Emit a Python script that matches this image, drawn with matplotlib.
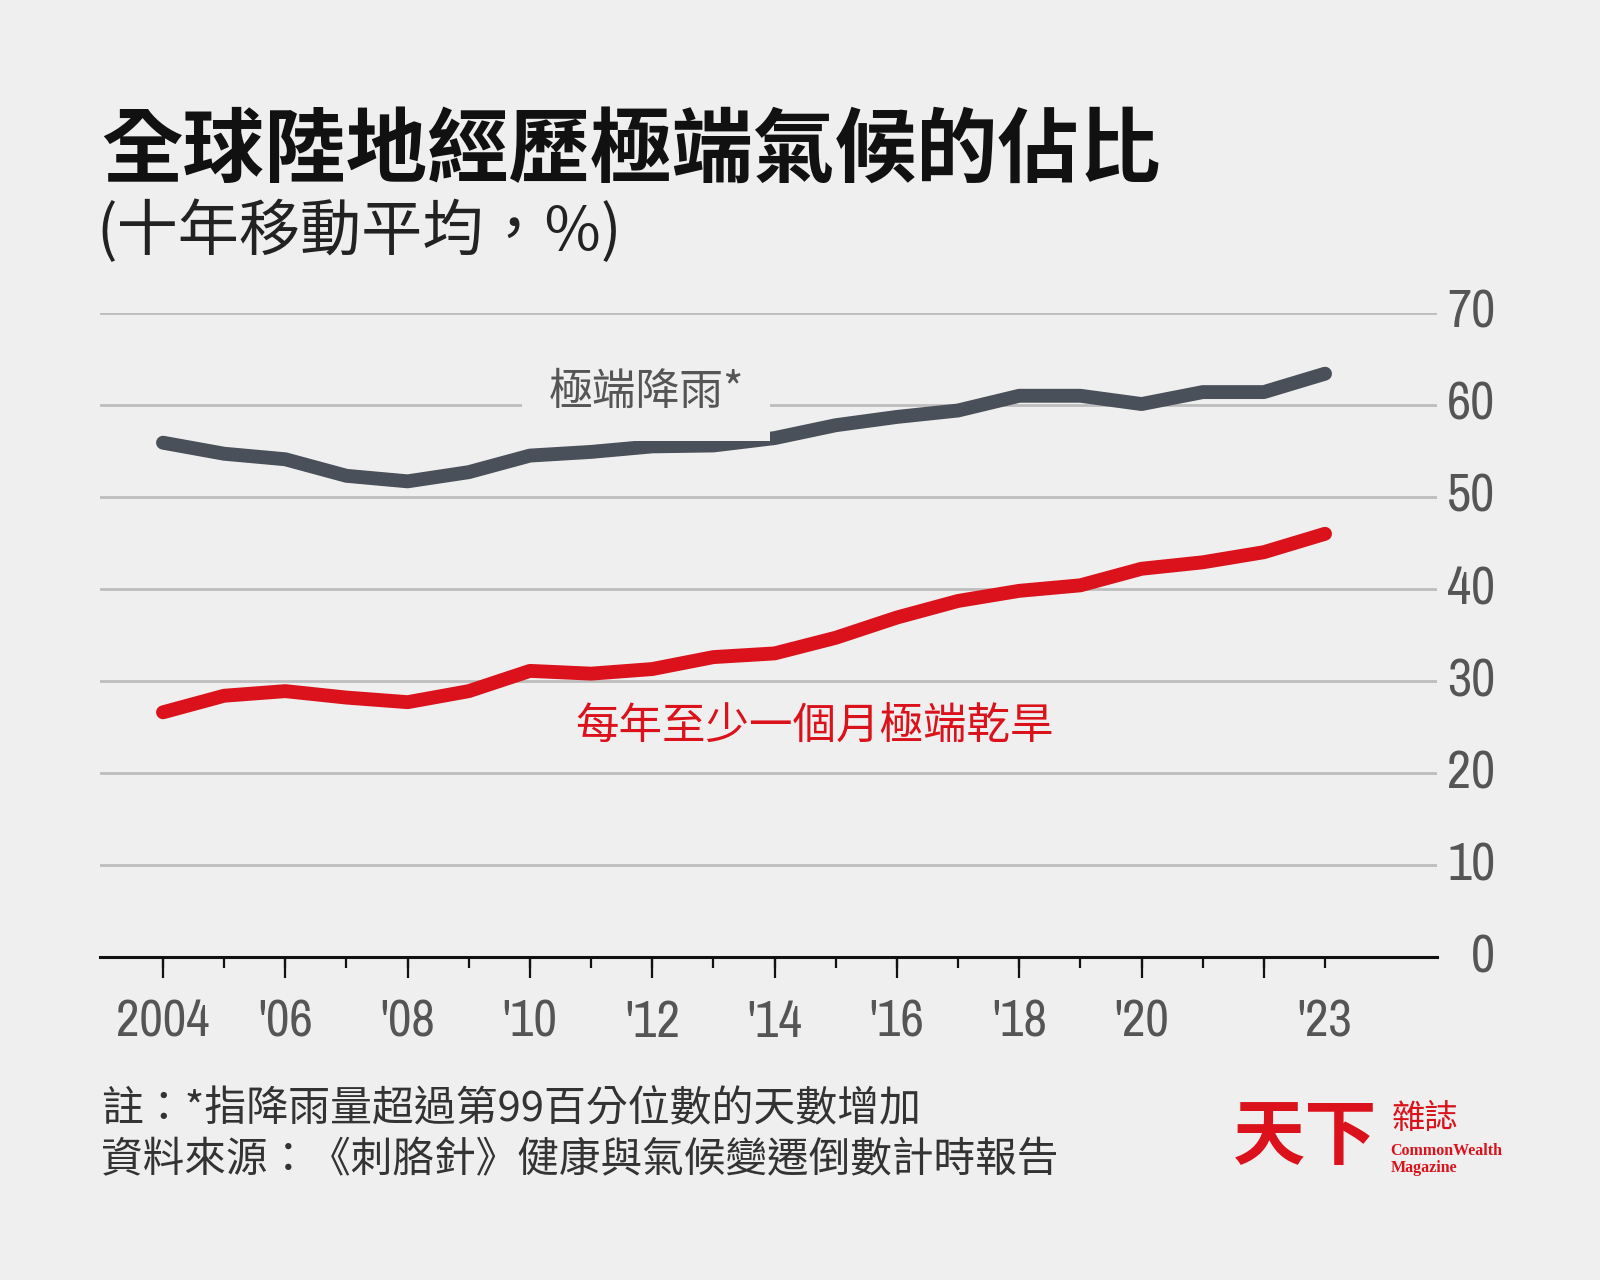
import matplotlib.pyplot as plt
from matplotlib import font_manager
from matplotlib.ticker import FixedLocator

# data (ten-year moving average, %)
years = list(range(2004, 2024))
rain = [55.9, 54.7, 54.1, 52.3, 51.7, 52.7, 54.5, 54.9, 55.5, 55.6,
        56.4, 57.8, 58.7, 59.4, 61.0, 61.0, 60.1, 61.4, 61.4, 63.4]
drought = [26.6, 28.4, 28.9, 28.2, 27.7, 28.9, 31.1, 30.8, 31.3, 32.6,
           33.0, 34.7, 36.9, 38.7, 39.8, 40.4, 42.2, 42.9, 44.0, 46.0]
label_years = [2004, 2006, 2008, 2010, 2012, 2014, 2016, 2018, 2020, 2023]
label_text = ['2004', "'06", "'08", "'10", "'12", "'14", "'16", "'18", "'20", "'23"]
yticks = [0, 10, 20, 30, 40, 50, 60, 70]

bg = '#efefef'
gray = '#4a5059'
red = '#db121b'
cjk = ['Noto Sans CJK TC', 'DejaVu Sans']

# look for a narrow sans font for the numbers
num_props = dict(family='DejaVu Sans')
fonts = font_manager.fontManager.ttflist
for f in fonts:
    if 'Narrow' in f.name or 'Condensed' in f.name:
        num_props = dict(family=f.name)
        break
else:
    for f in fonts:
        if f.stretch in ('condensed', 'semi-condensed', 'extra-condensed') and f.style == 'normal':
            num_props = dict(family=f.name, stretch=f.stretch)
            break

fig = plt.figure(figsize=(16, 12.8), dpi=100, facecolor=bg)
ax = fig.add_axes([0.0625, 0.2523, 0.8356, 0.5032])
ax.set_facecolor(bg)

ax.plot(years, rain, color=gray, lw=10, solid_capstyle='round', solid_joinstyle='round', zorder=3)
ax.plot(years, drought, color=red, lw=10, solid_capstyle='round', solid_joinstyle='round', zorder=3)

ax.set_xlim(2002.97, 2024.83)
ax.set_ylim(0, 70)

# gridlines
for v in yticks[1:]:
    ax.axhline(v, color='#bdbdbd', lw=2, zorder=1)

for s in ['top', 'left', 'right']:
    ax.spines[s].set_visible(False)
ax.spines['bottom'].set_linewidth(2.2)
ax.spines['bottom'].set_color('#111111')

# y ticks on the right, right-aligned
ax.yaxis.tick_right()
ax.set_yticks(yticks)
ax.set_yticklabels([str(v) for v in yticks])
ax.tick_params(axis='y', length=0, pad=42, labelsize=38, labelcolor='#555555')
for t in ax.get_yticklabels():
    t.set(**num_props)
    t.set_verticalalignment('center')
    t.set_horizontalalignment('right')

# x ticks: short ticks every year, long ticks on even years
ax.xaxis.remove_overlapping_locs = False
ax.xaxis.set_major_locator(FixedLocator(years))
ax.set_xticklabels([label_text[label_years.index(y)] if y in label_years else '' for y in years])
ax.xaxis.set_minor_locator(FixedLocator([y for y in years if y % 2 == 0]))
ax.tick_params(axis='x', which='major', length=8, width=1.6, color='#111111',
               pad=22, labelsize=37, labelcolor='#555555')
ax.tick_params(axis='x', which='minor', length=15, width=1.6, color='#111111')
for t in ax.get_xticklabels():
    t.set(**num_props)

# series labels
ax.text(2011.9, 61.4, '極端降雨*', family=cjk, fontsize=31.5, color='#555555',
        ha='center', va='center', zorder=4,
        bbox=dict(boxstyle='square,pad=0.6', facecolor=bg, edgecolor='none'))
ax.text(2014.65, 24.9, '每年至少一個月極端乾旱', family=cjk, fontsize=31.3, color=red,
        ha='center', va='center', zorder=4)

# titles
fig.text(0.063, 0.881, '全球陸地經歷極端氣候的佔比', family=cjk, fontsize=58.7,
         fontweight='heavy', color='#111111', ha='left', va='center')
fig.text(0.060, 0.8185, '(十年移動平均，%)', family=cjk, fontsize=44,
         fontweight='light', color='#222222', ha='left', va='center')

# footer
fig.text(0.063, 0.133, '註：*指降雨量超過第99百分位數的天數增加', family=cjk, fontsize=30.2,
         color='#333333', ha='left', va='center')
fig.text(0.063, 0.093, '資料來源：《刺胳針》健康與氣候變遷倒數計時報告', family=cjk, fontsize=30,
         color='#333333', ha='left', va='center')

# logo
fig.text(0.816, 0.111, '天下', family=cjk, fontsize=52, fontweight='bold',
         color=red, ha='center', va='center')
fig.text(0.891, 0.126, '雜誌', family=cjk, fontsize=24, color=red, ha='center', va='center')
fig.text(0.869, 0.1006, 'CommonWealth', family=['Liberation Serif', 'DejaVu Serif'],
         fontsize=11.5, fontweight='bold', color=red, ha='left', va='center')
fig.text(0.869, 0.0877, 'Magazine', family=['Liberation Serif', 'DejaVu Serif'],
         fontsize=11.5, fontweight='bold', color=red, ha='left', va='center')

fig.savefig('out.png', dpi=100, facecolor=bg)
